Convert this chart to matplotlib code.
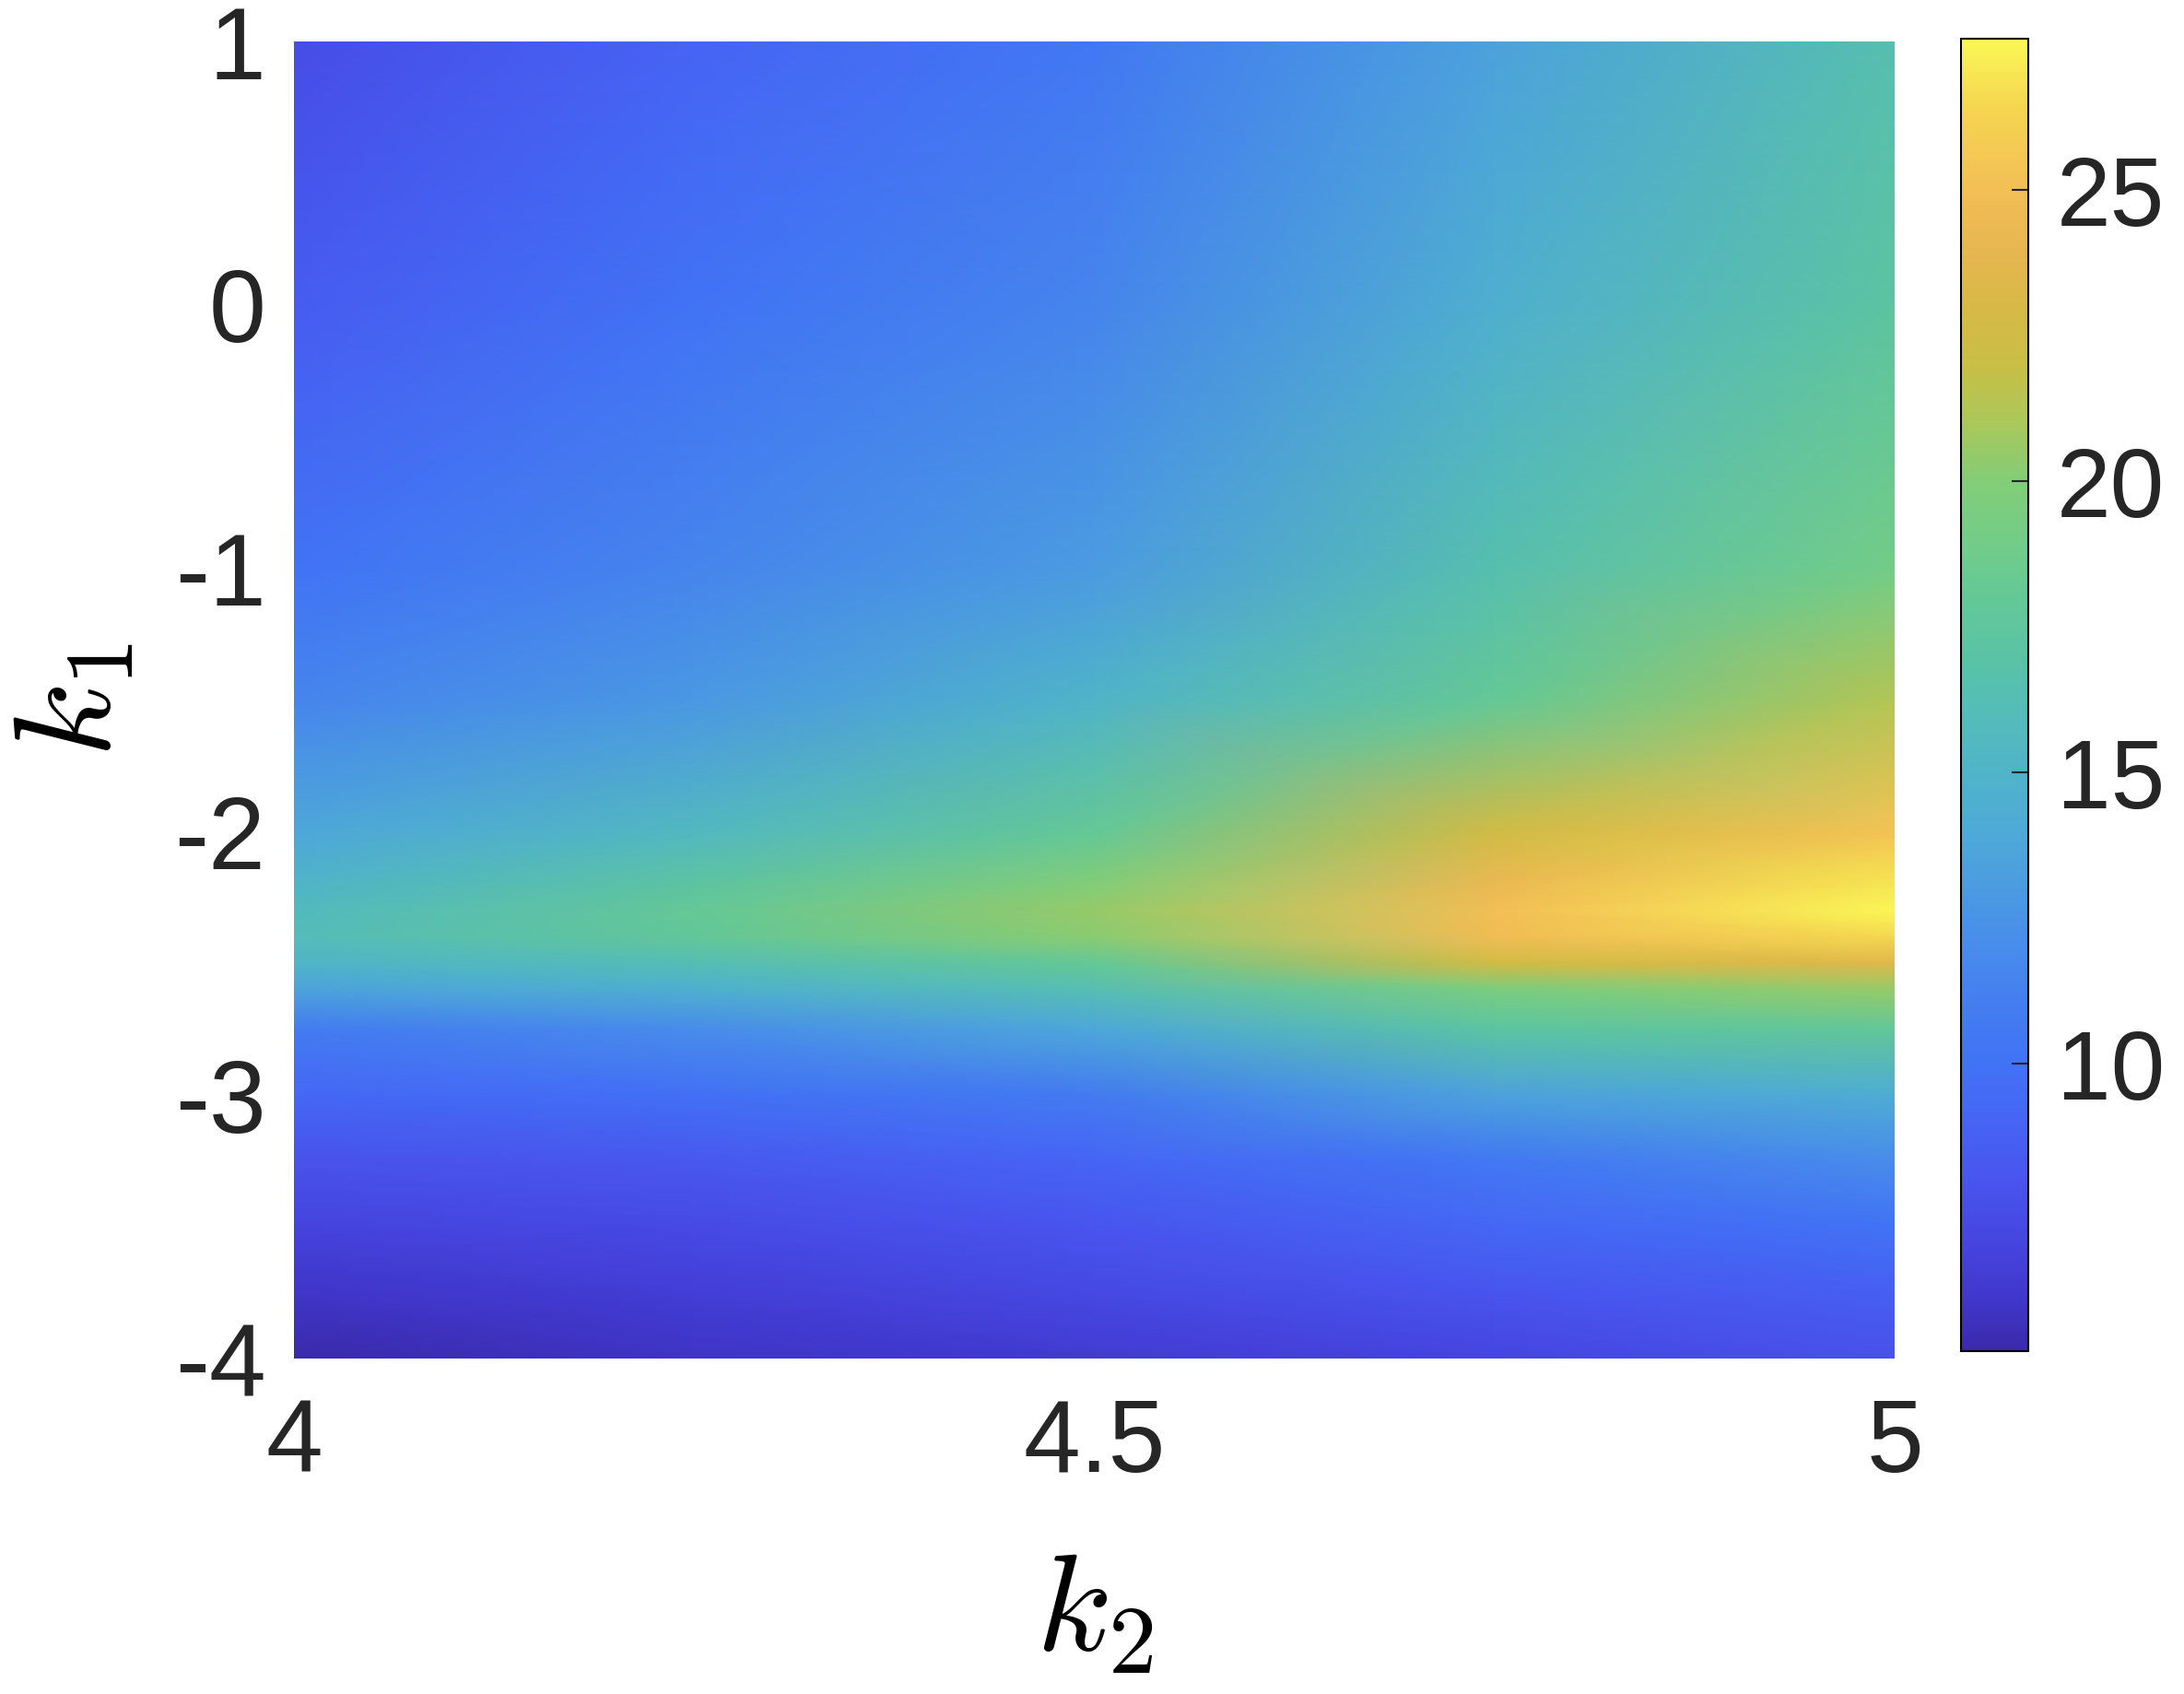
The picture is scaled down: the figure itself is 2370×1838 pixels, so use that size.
import numpy as np
import matplotlib
matplotlib.use('Agg')
import matplotlib.pyplot as plt
from matplotlib.colors import LinearSegmentedColormap

plt.rcParams['font.family'] = 'Liberation Sans'
plt.rcParams['mathtext.fontset'] = 'cm'
plt.rcParams['axes.unicode_minus'] = False

## Grid
k2_vals = [4.0, 4.25, 4.5, 4.75, 5.0]
k1_vals = [1, 0, -1, -1.5, -2, -2.2, -2.3, -2.4, -2.5, -2.6, -2.75, -3, -3.25, -3.5, -3.75, -4]

col_400 = [7.5, 8.5, 10.0, 11.5, 13.8, 15.0, 15.7, 16.0, 15.0, 13.5, 10.8, 9.2, 7.8, 6.8, 5.9, 5.1]
col_425 = [9.0, 10.0, 11.5, 12.8, 15.5, 17.3, 18.0, 17.8, 16.2, 14.5, 12.0, 9.8, 8.2, 7.3, 6.5, 5.8]
col_450 = [10.5, 11.5, 13.0, 15.0, 18.0, 20.0, 20.5, 20.2, 18.0, 16.3, 13.8, 10.8, 9.1, 8.0, 7.2, 6.3]
col_475 = [13.5, 14.5, 16.5, 18.0, 22.5, 24.3, 25.0, 24.8, 22.5, 19.5, 17.2, 13.5, 10.5, 9.2, 8.0, 7.0]
col_500 = [16.5, 17.3, 19.0, 21.3, 25.3, 27.0, 27.6, 26.5, 23.5, 20.5, 17.8, 14.3, 12.0, 10.0, 8.7, 7.8]

x_ticks = [4, 4.5, 5]
x_ticklabels = ['4', '4.5', '5']
y_ticks = [1, 0, -1, -2, -3, -4]
y_ticklabels = ['1', '0', '-1', '-2', '-3', '-4']
cb_ticks = [10, 15, 20, 25]

vmin, vmax = 5.07, 27.6

## parula-like colours as seen in the colorbar
anchor_vals = [5.07, 6, 7, 8, 9, 10, 11, 12, 13, 14, 15, 16, 17, 18, 19, 20, 21, 22, 23, 24, 25, 26.5, 27.6]
anchor_cols = [(58, 42, 170), (65, 55, 205), (70, 70, 225), (72, 85, 238), (70, 100, 245),
               (65, 115, 245), (68, 125, 240), (72, 140, 235), (75, 155, 225), (78, 170, 215),
               (80, 180, 200), (85, 188, 185), (90, 195, 165), (100, 200, 150), (115, 205, 135),
               (130, 205, 120), (170, 200, 90), (200, 190, 70), (215, 185, 70), (232, 182, 80),
               (242, 190, 85), (245, 215, 80), (250, 247, 85)]
pos = [(v - vmin) / (vmax - vmin) for v in anchor_vals]
cmap = LinearSegmentedColormap.from_list('parula_like',
                                         list(zip(pos, [tuple(c / 255 for c in rgb) for rgb in anchor_cols])), N=512)

Z = np.column_stack([col_400, col_425, col_450, col_475, col_500])
K2, K1 = np.meshgrid(k2_vals, k1_vals)

fig = plt.figure(figsize=(23.7, 18.38), dpi=100)
ax = fig.add_axes([0.1346, 0.198, 0.733, 0.7775])
mesh = ax.pcolormesh(K2, K1, Z, shading='gouraud', cmap=cmap, vmin=vmin, vmax=vmax, rasterized=True)
ax.set_xlim(4, 5)
ax.set_ylim(-4, 1)
for s in ax.spines.values():
    s.set_visible(False)
ax.set_xticks(x_ticks)
ax.set_xticklabels(x_ticklabels)
ax.set_yticks(y_ticks)
ax.set_yticklabels(y_ticklabels)
ax.tick_params(axis='both', length=0, labelsize=80, colors='#262626')
ax.tick_params(axis='x', pad=30)
ax.tick_params(axis='y', pad=22)
ax.set_xlabel(r'$k_2$', fontsize=108)
ax.set_ylabel(r'$k_1$', fontsize=108)
ax.xaxis.set_label_coords(0.5, -0.145)
ax.yaxis.set_label_coords(-0.097, 0.5)

## Colorbar
cax = fig.add_axes([0.8979, 0.2024, 0.0308, 0.7747])
cb = fig.colorbar(mesh, cax=cax, ticks=cb_ticks)
cb.outline.set_linewidth(1.5)
cax.tick_params(direction='in', length=13, width=1.5, labelsize=76, pad=22, colors='#262626')

plt.savefig('out.png', dpi=100)
